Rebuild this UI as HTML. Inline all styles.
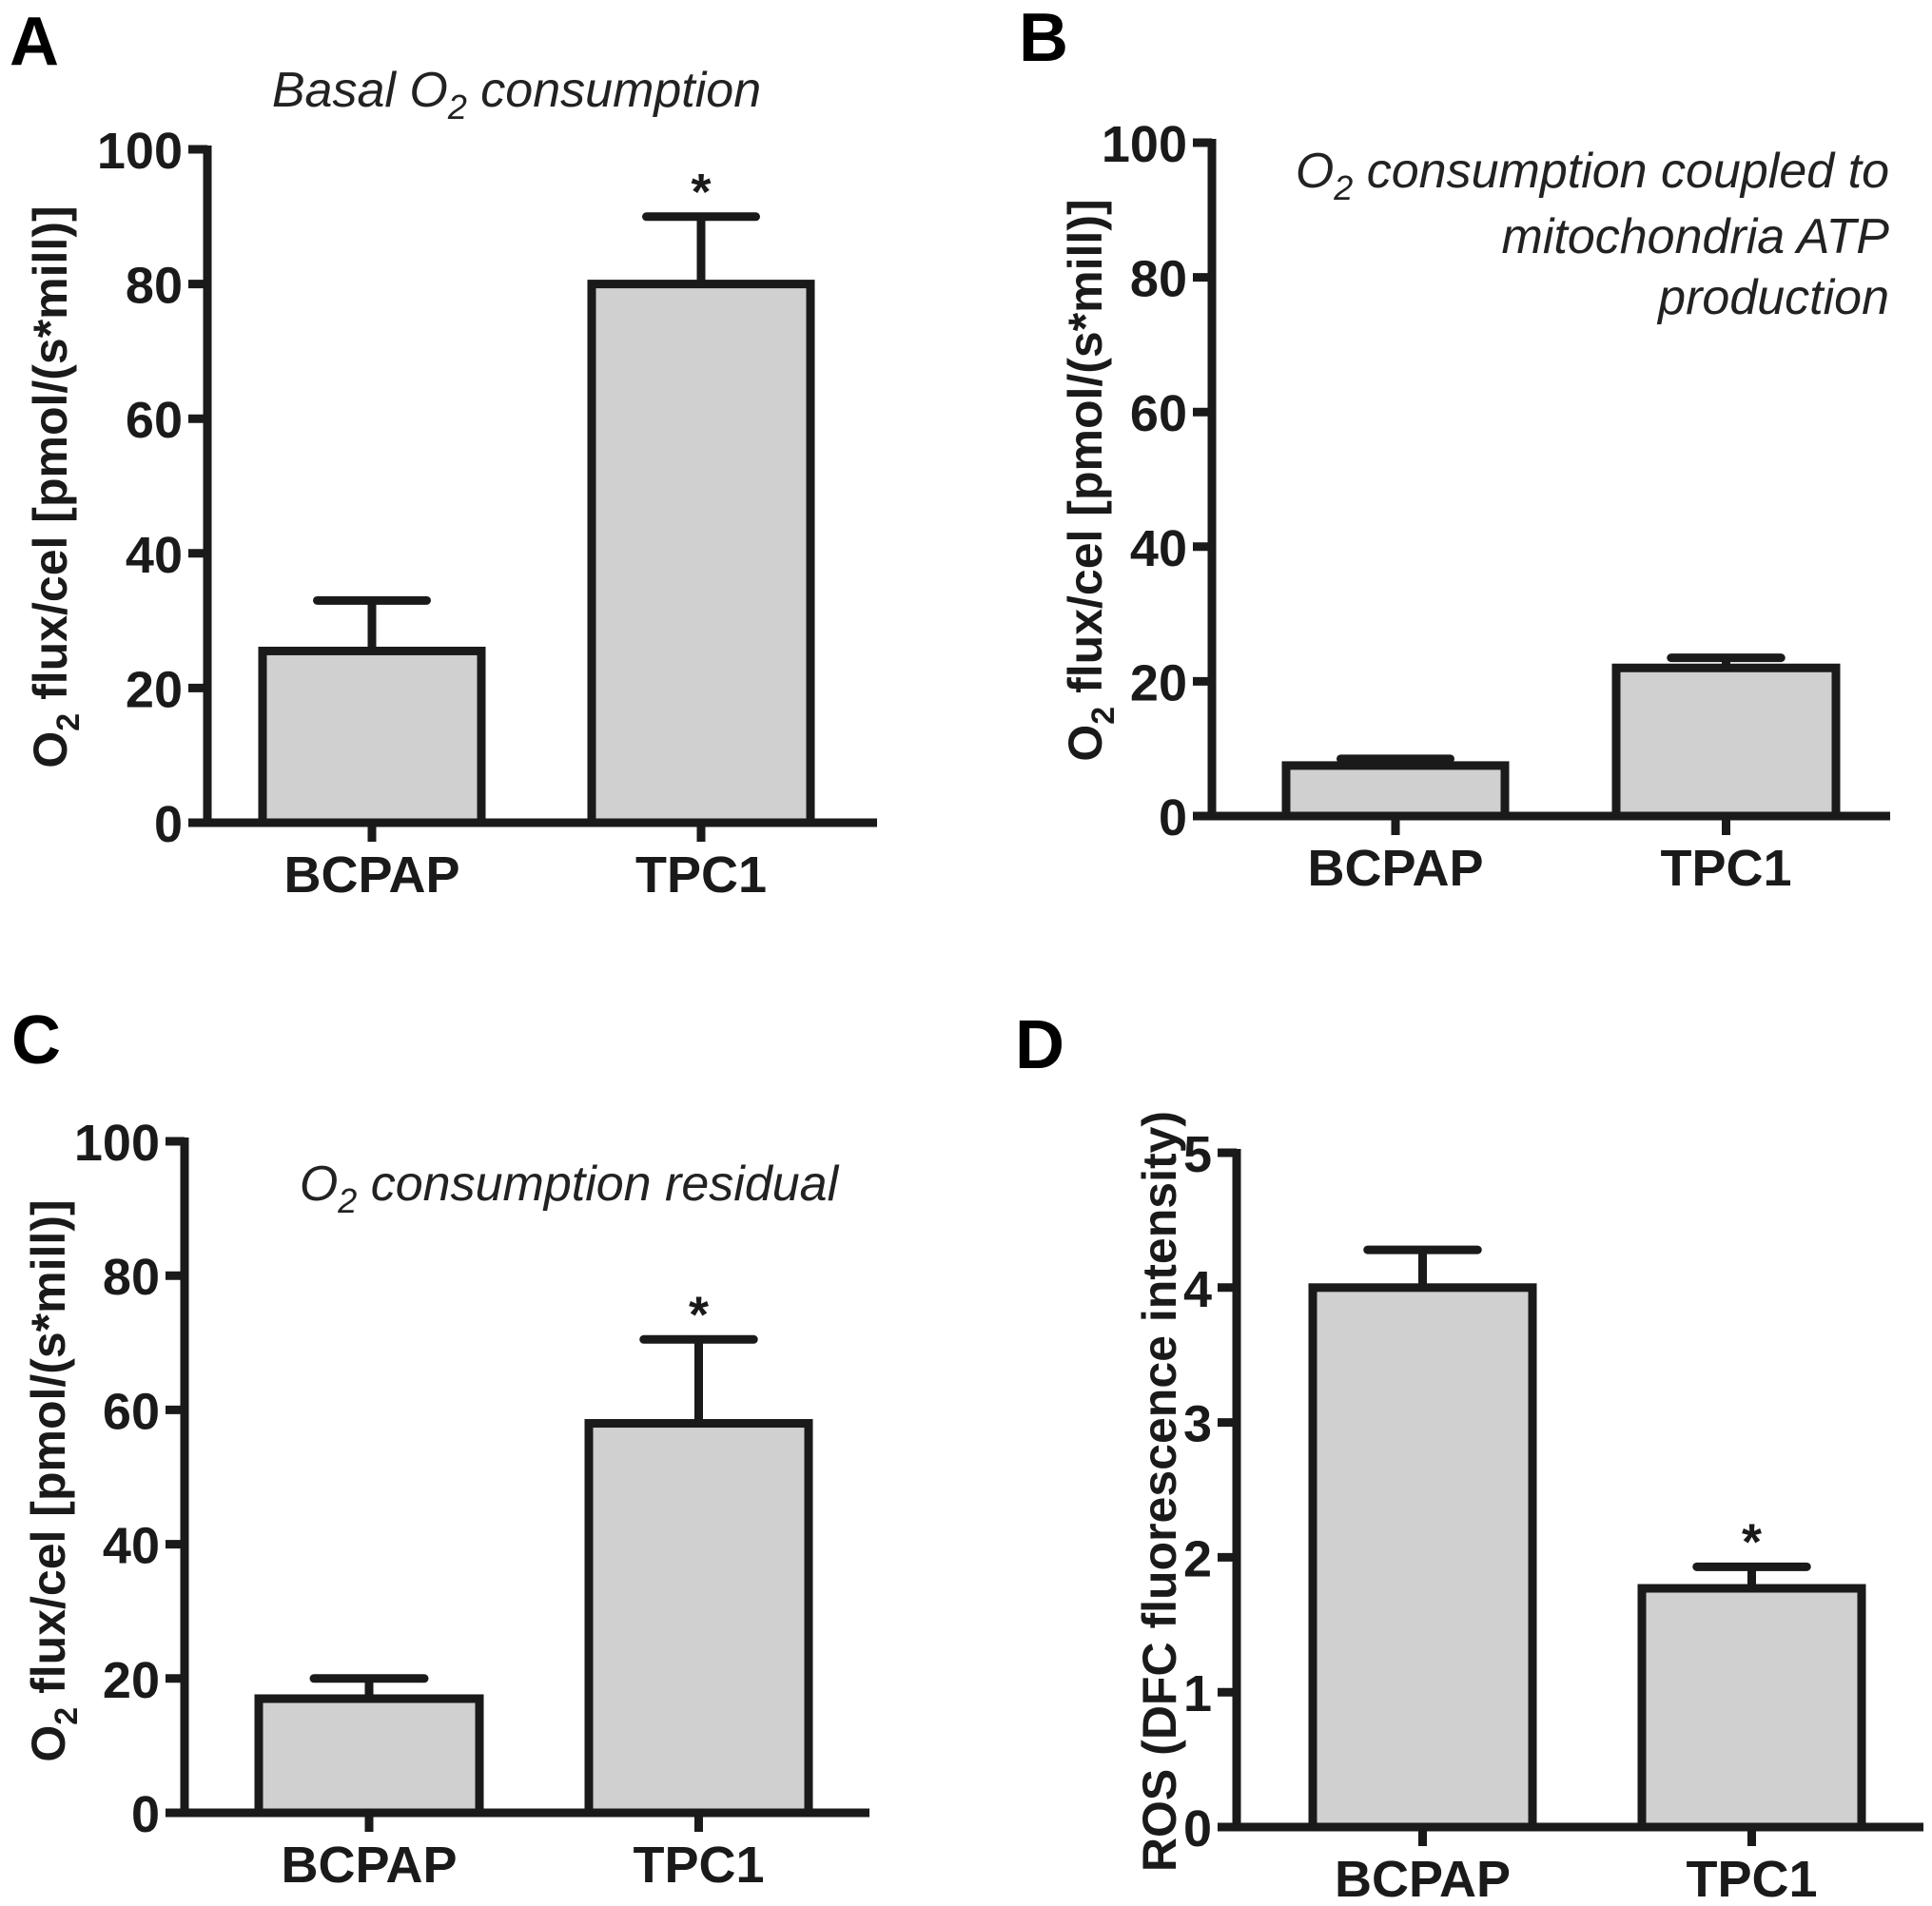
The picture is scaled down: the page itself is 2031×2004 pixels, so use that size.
<!DOCTYPE html>
<html><head><meta charset="utf-8">
<style>
html,body{margin:0;padding:0;background:#fff;}
svg{display:block;font-family:"Liberation Sans",Arial,sans-serif;}
</style></head>
<body>
<svg id="fig" width="2031" height="2004" viewBox="0 0 2031 2004" xmlns="http://www.w3.org/2000/svg">
<text x="10" y="68" font-size="72" font-weight="bold">A</text>
<text x="1071" y="64" font-size="72" font-weight="bold">B</text>
<text x="12" y="1118" font-size="72" font-weight="bold">C</text>
<text x="1067" y="1123" font-size="72" font-weight="bold">D</text>

<text x="543" y="112" font-size="52" font-style="italic" text-anchor="middle" fill="#222">Basal O<tspan font-size="36" dy="13">2</tspan><tspan dy="-13"> consumption</tspan></text>
<text font-size="52" font-style="italic" text-anchor="end" fill="#222"><tspan x="1986" y="197">O<tspan font-size="36" dy="13">2</tspan><tspan dy="-13"> consumption coupled to</tspan></tspan><tspan x="1986" y="266">mitochondria ATP</tspan><tspan x="1986" y="330">production</tspan></text>
<text x="598" y="1262" font-size="52" font-style="italic" text-anchor="middle" fill="#222">O<tspan font-size="36" dy="13">2</tspan><tspan dy="-13"> consumption residual</tspan></text>
<g id="panels"></g>
</svg>
<script>
const categories = ["BCPAP", "TPC1"];
const ticksO2 = [0, 20, 40, 60, 80, 100];
const ticksROS = [0, 1, 2, 3, 4, 5];
const valuesA = [25.5, 80];
const errorsA = [33, 90];
const valuesB = [7.5, 22];
const errorsB = [8.5, 23.5];
const valuesC = [17, 58];
const errorsC = [20, 70.5];
const valuesD = [4.0, 1.77];
const errorsD = [4.28, 1.93];
const starsA = [false, true];
const starsB = [false, false];
const starsC = [false, true];
const starsD = [false, true];

const NS = "http://www.w3.org/2000/svg";
const root = document.getElementById("panels");
function mk(tag, attrs, parent) {
  const e = document.createElementNS(NS, tag);
  for (const k in attrs) e.setAttribute(k, attrs[k]);
  parent.appendChild(e);
  return e;
}
function panel(id, cfg, values, errors, ticks, stars, ylabel) {
  const g = mk("g", {}, root);
  
  
  const ymax = ticks[ticks.length - 1];
  const y = v => cfg.y0 - (v / ymax) * (cfg.y0 - cfg.yTop);
  const lw = 9;
  values.forEach((v, i) => {
    const bx = cfg.bars[i];
    const r = mk("rect", {x: bx[0], y: y(v), width: bx[1] - bx[0], height: cfg.y0 - y(v), fill: "#d0d0d0", stroke: "#1a1a1a", "stroke-width": lw}, g);
    
    
    const cx = (bx[0] + bx[1]) / 2;
    const e1 = mk("line", {x1: cx, x2: cx, y1: y(v), y2: y(errors[i]), stroke: "#1a1a1a", "stroke-width": lw}, g);
    
    
    const cap = (bx[1] - bx[0]) / 4;
    const e2 = mk("line", {x1: cx - cap, x2: cx + cap, y1: y(errors[i]), y2: y(errors[i]), stroke: "#1a1a1a", "stroke-width": lw, "stroke-linecap": "round"}, g);
    
    
    if (stars[i]) {
      const s = mk("text", {x: cx, y: y(errors[i]) - 8, "font-size": 54, "font-weight": "bold", "text-anchor": "middle", fill: "#1a1a1a"}, g);
      s.textContent = "*";
      
      
    }
    const t = mk("line", {x1: cx, x2: cx, y1: cfg.y0, y2: cfg.y0 + 20, stroke: "#1a1a1a", "stroke-width": lw}, g);
    
    
    const lb = mk("text", {x: cx, y: cfg.y0 + 73, "font-size": 54, "font-weight": "bold", "text-anchor": "middle", fill: "#1a1a1a"}, g);
    lb.textContent = categories[i];
    
    
  });
  const ya = mk("line", {x1: cfg.x0, x2: cfg.x0, y1: y(ymax) - 4, y2: cfg.y0 + 4, stroke: "#1a1a1a", "stroke-width": lw}, g);
  
  
  const xa = mk("line", {x1: cfg.x0 - 4, x2: cfg.xEnd, y1: cfg.y0, y2: cfg.y0, stroke: "#1a1a1a", "stroke-width": lw}, g);
  
  
  ticks.forEach(tv => {
    const tl = mk("line", {x1: cfg.x0 - 20, x2: cfg.x0, y1: y(tv), y2: y(tv), stroke: "#1a1a1a", "stroke-width": lw}, g);
    
    
    const tt = mk("text", {x: cfg.x0 - 26, y: y(tv) + 20, "font-size": 54, "font-weight": "bold", "text-anchor": "end", fill: "#1a1a1a"}, g);
    tt.textContent = tv;
    
    
  });
  const yl = mk("text", {x: 0, y: 0, "font-size": 50, "font-weight": "bold", "text-anchor": "middle", fill: "#1a1a1a", transform: "translate(" + cfg.ylx + "," + cfg.ylc + ") rotate(-90)"}, g);
  
  
  if (ylabel === "o2") {
    yl.innerHTML = 'O<tspan font-size="34" dy="13">2</tspan><tspan dy="-13"> flux/cel [pmol/(s*mill)]</tspan>';
  } else {
    yl.textContent = ylabel;
  }
}
panel("a", {x0: 218, xEnd: 922, y0: 865, yTop: 157, bars: [[276, 506], [622, 852]], ylx: 70, ylc: 512}, valuesA, errorsA, ticksO2, starsA, "o2");
panel("b", {x0: 1274, xEnd: 1987, y0: 858, yTop: 150, bars: [[1352, 1582], [1699, 1930]], ylx: 1158, ylc: 505}, valuesB, errorsB, ticksO2, starsB, "o2");
panel("c", {x0: 194, xEnd: 914, y0: 1906, yTop: 1200, bars: [[272, 504], [619, 850]], ylx: 68, ylc: 1557}, valuesC, errorsC, ticksO2, starsC, "o2");
panel("d", {x0: 1300, xEnd: 2022, y0: 1921, yTop: 1212, bars: [[1380, 1611], [1726, 1957]], ylx: 1236, ylc: 1568}, valuesD, errorsD, ticksROS, starsD, "ROS (DFC fluorescence intensity)");
</script>
</body></html>
